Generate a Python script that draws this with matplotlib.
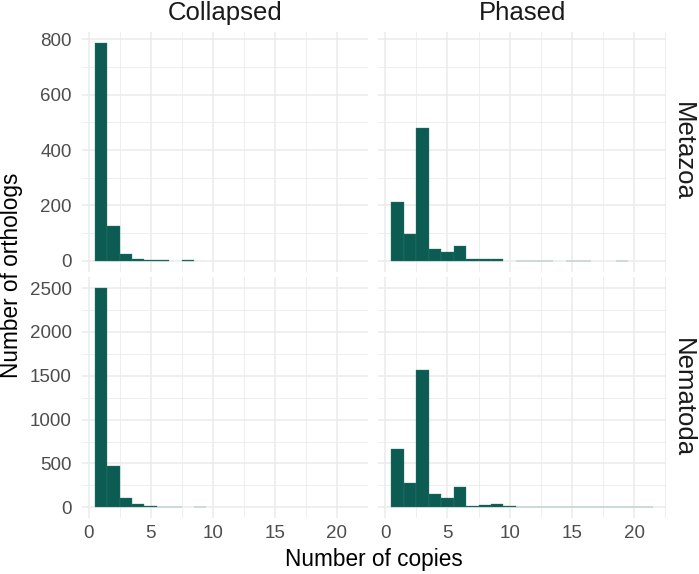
import numpy as np
import matplotlib
matplotlib.use("Agg")
import matplotlib.pyplot as plt
from matplotlib.ticker import MultipleLocator

plt.rcParams['font.family'] = ['Liberation Sans', 'DejaVu Sans']

# number of copies per ortholog (bins of width 1, centred on integers)
copies = np.arange(1, 22)

collapsed_metazoa = [788, 126, 24, 6, 2, 2, 0, 2, 0, 0, 0, 0, 0, 0, 0, 0, 0, 0, 0, 0, 0]
phased_metazoa = [214, 95, 480, 41, 31, 52, 8, 5, 5, 0, 1, 1, 1, 0, 1, 1, 0, 0, 1, 0, 0]
collapsed_nematoda = [2505, 475, 103, 38, 10, 5, 5, 0, 2, 0, 0, 0, 0, 0, 0, 0, 0, 0, 0, 0, 0]
phased_nematoda = [667, 283, 1568, 157, 104, 234, 18, 30, 38, 12, 8, 8, 4, 4, 3, 3, 3, 3, 3, 3, 3]

columns = ['Collapsed', 'Phased']
rows = ['Metazoa', 'Nematoda']
data = {
    ('Metazoa', 'Collapsed'): collapsed_metazoa,
    ('Metazoa', 'Phased'): phased_metazoa,
    ('Nematoda', 'Collapsed'): collapsed_nematoda,
    ('Nematoda', 'Phased'): phased_nematoda,
}
y_steps = {'Metazoa': 200, 'Nematoda': 500}

bar_col = '#0c5c53'
edge_col = '#2f7a70'
grid_col = '#ebebeb'

W, H = 699, 574
fig = plt.figure(figsize=(W / 100, H / 100), dpi=100)
fig.patch.set_facecolor('white')

# panel boxes in pixels: (left, right), (top, bottom)
col_px = [(81.7, 368.3), (378.3, 666.0)]
row_px = [(31.7, 271.7), (276.7, 518.3)]

for r, row in enumerate(rows):
    row_max = max(max(data[(row, c)]) for c in columns)
    for c, col in enumerate(columns):
        x0, x1 = col_px[c]
        t, b = row_px[r]
        ax = fig.add_axes([x0 / W, 1 - b / H, (x1 - x0) / W, (b - t) / H])
        vals = data[(row, col)]
        # empty bins get no outline, so no line is drawn along zero
        edges = [edge_col if v > 0 else 'none' for v in vals]
        ax.bar(copies, vals, width=1.0, color=bar_col, edgecolor=edges,
               linewidth=0.25, zorder=3)
        ax.set_xlim(-0.55, 22.55)
        ax.set_ylim(-0.05 * row_max, 1.05 * row_max)
        ax.xaxis.set_major_locator(MultipleLocator(5))
        ax.xaxis.set_minor_locator(MultipleLocator(2.5))
        ax.yaxis.set_major_locator(MultipleLocator(y_steps[row]))
        ax.yaxis.set_minor_locator(MultipleLocator(y_steps[row] / 2))
        ax.grid(which='major', color=grid_col, linewidth=1.1, zorder=0)
        ax.grid(which='minor', color=grid_col, linewidth=0.6, zorder=0)
        ax.set_axisbelow(True)
        for s in ax.spines.values():
            s.set_visible(False)
        ax.tick_params(which='both', length=0, labelsize=13.5, labelcolor='#4d4d4d')
        ax.tick_params(axis='y', pad=7)
        ax.tick_params(axis='x', pad=5)
        if c == 1:
            ax.tick_params(axis='y', labelleft=False)
        if r == 0:
            ax.tick_params(axis='x', labelbottom=False)

# strip labels
for c, col in enumerate(columns):
    xc = sum(col_px[c]) / 2 / W
    fig.text(xc, 1 - 20 / H, col, ha='center', va='baseline', fontsize=18.5, color='#1a1a1a')
for r, row in enumerate(rows):
    yc = 1 - sum(row_px[r]) / 2 / H
    fig.text(683 / W, yc, row, ha='center', va='center', rotation=-90, fontsize=18.5, color='#1a1a1a')

# axis titles
fig.text((81.7 + 666.0) / 2 / W, 1 - 566 / H, 'Number of copies', ha='center', va='baseline',
         fontsize=16.3, color='black')
fig.text(12 / W, 1 - 275 / H, 'Number of orthologs', ha='center', va='center', rotation=90,
         fontsize=16.3, color='black')

fig.savefig('out.png', dpi=100, facecolor='white')
